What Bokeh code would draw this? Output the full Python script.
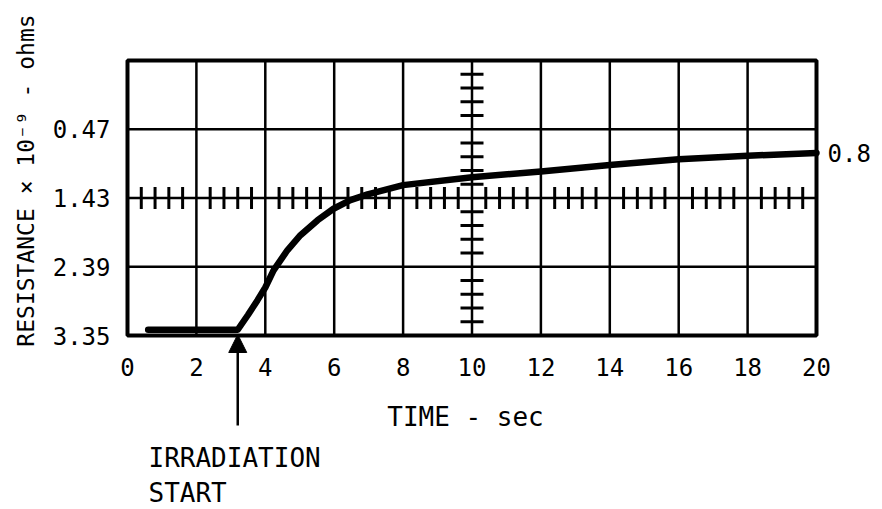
import numpy as np
from bokeh.plotting import figure
from bokeh.models import Range1d, Arrow, NormalHead, ColumnDataSource
from bokeh.core.properties import value
from bokeh.embed import file_html
from bokeh.resources import INLINE

# ---- data ----
time_s = [0.6, 3.2, 3.5, 3.77, 4.0, 4.24, 4.64, 5.02, 5.52, 5.98, 6.47, 6.97, 8.0, 10.0, 12.0, 14.0, 16.0, 18.0, 20.0]
resistance = [3.27, 3.27, 3.06, 2.86, 2.68, 2.44, 2.16, 1.95, 1.74, 1.58, 1.46, 1.38, 1.25, 1.14, 1.06, 0.97, 0.89, 0.84, 0.80]

x_ticks = [0, 2, 4, 6, 8, 10, 12, 14, 16, 18, 20]
x_tick_labels = ["0", "2", "4", "6", "8", "10", "12", "14", "16", "18", "20"]
y_ticks = [0.47, 1.43, 2.39, 3.35]
y_tick_labels = ["0.47", "1.43", "2.39", "3.35"]
y_top = -0.49
x_center = 10
y_center = 1.43
irradiation_start = 3.2
end_value_label = "0.8"

FONT = "DejaVu Sans Mono"

# ---- layout (pixels of the 882x509 canvas) ----
W, H = 882, 509
FL, FR, FT, FB = 127, 816, 60, 335          # plot box edges
x0, x1 = x_ticks[0], x_ticks[-1]
y_bot = y_ticks[-1]
sx = (FR - FL) / (x1 - x0)                   # px per second
sy = (FB - FT) / (y_bot - y_top)             # px per resistance unit

def X(px):  # canvas px -> time
    return x0 + (px - FL) / sx

def Y(py):  # canvas px (from top) -> resistance
    return y_bot + (py - FB) / sy

p = figure(width=W, height=H, output_backend="svg", toolbar_location=None,
           x_range=Range1d(X(0), X(W)), y_range=Range1d(Y(H), Y(0)),
           x_axis_location=None, y_axis_location=None, min_border=0)
p.outline_line_color = None
p.background_fill_color = "white"
p.border_fill_color = "white"
p.xgrid.visible = False
p.ygrid.visible = False

# grid lines
p.segment(x0=x_ticks, x1=x_ticks, y0=y_top, y1=y_bot, line_color="black", line_width=2.5)
p.segment(x0=x0, x1=x1, y0=y_ticks, y1=y_ticks, line_color="black", line_width=2.5)
# plot box
p.quad(left=x0, right=x1, top=y_top, bottom=y_bot, fill_color=None, line_color="black", line_width=4)

# crosshair minor ticks
k = np.arange(1, 50)
tx = 0.4 * k[k % 5 != 0]
p.segment(x0=tx, x1=tx, y0=y_center - 11 / sy, y1=y_center + 11 / sy, line_color="black", line_width=3)
m = np.arange(1, 20)
ty = y_top + (y_bot - y_top) / 20 * m[m % 5 != 0]
p.segment(x0=x_center - 11.5 / sx, x1=x_center + 11.5 / sx, y0=ty, y1=ty, line_color="black", line_width=3)

# curve
src = ColumnDataSource(dict(t=time_s, r=resistance))
p.line("t", "r", source=src, line_color="black", line_width=6.5, line_cap="round", line_join="round")

# tick labels
p.text(x=x_ticks, y=[Y(366)] * len(x_ticks), text=x_tick_labels, text_font=value(FONT),
       text_font_size="24px", text_align="center", text_baseline="middle", text_color="black")
p.text(x=[X(110)] * len(y_ticks), y=y_ticks, text=y_tick_labels, text_font=value(FONT),
       text_font_size="24px", text_align="right", text_baseline="middle", text_color="black")

# arrow for irradiation start
p.add_layout(Arrow(end=NormalHead(size=18, fill_color="black", line_color="black"),
                   x_start=irradiation_start, y_start=Y(425), x_end=irradiation_start, y_end=Y(334),
                   line_color="black", line_width=2.5))

def lab(px, py, text, size="24px", angle=0.0, align="left", baseline="middle"):
    p.text(x=[X(px)], y=[Y(py)], text=[text], text_font=value(FONT), text_font_size=size,
           text_color="black", angle=angle, text_align=align, text_baseline=baseline)

lab(25, 180, "RESISTANCE × 10⁻⁹ - ohms", size="23px", angle=np.pi / 2, align="center")
lab(465, 416, "TIME - sec", size="26px", align="center")
lab(148, 457, "IRRADIATION", size="26px")
lab(148, 492, "START", size="26px")
lab(827, 152, end_value_label, size="24px")

open("out.html", "w").write(file_html(p, INLINE))
